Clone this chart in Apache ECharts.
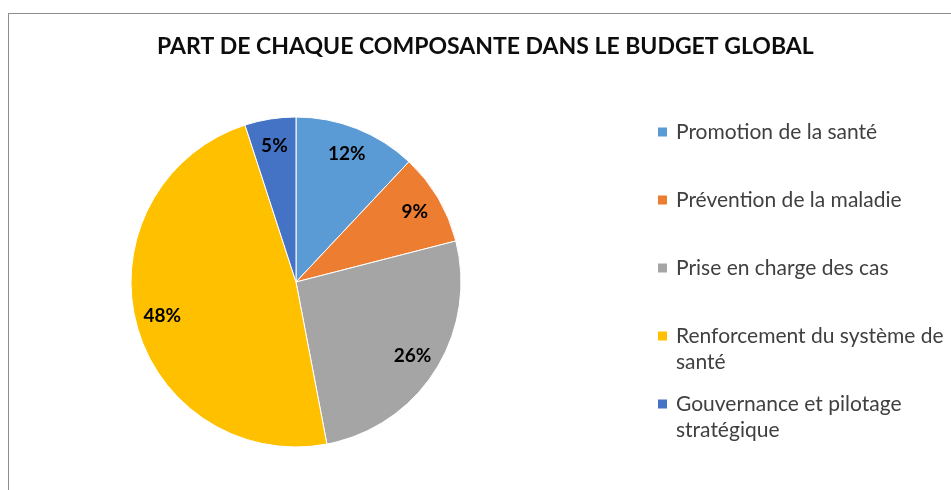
<!DOCTYPE html>
<html>
<head>
<meta charset="utf-8">
<script src="https://cdn.jsdelivr.net/npm/echarts@6/dist/echarts.min.js"></script>
<style>
  html, body { margin: 0; padding: 0; background: #fff; overflow: hidden; }
  #frame { position: absolute; left: 8px; top: 13px; width: 1200px; height: 1200px; border: 1px solid #8c8c8c; }
  #chart { position: absolute; left: 0; top: 0; width: 951px; height: 490px; }
</style>
</head>
<body>
<div id="frame"></div>
<div id="chart"></div>
<script>
const categories = [
  'Promotion de la santé',
  'Prévention de la maladie',
  'Prise en charge des cas',
  'Renforcement du système de santé',
  'Gouvernance et pilotage stratégique'
];
// legend wrapping as in the original
const legendLines = [
  ['Promotion de la santé'],
  ['Prévention de la maladie'],
  ['Prise en charge des cas'],
  ['Renforcement du système de', 'santé'],
  ['Gouvernance et pilotage', 'stratégique']
];
const shares = [12, 9, 26, 48, 5];
const colors = ['#5B9BD5', '#ED7D31', '#A5A5A5', '#FFC000', '#4472C4'];

const FONT = 'Lato, "Open Sans", sans-serif';
const chart = echarts.init(document.getElementById('chart'));

const pieData = categories.map((name, i) => ({
  name,
  value: shares[i],
  itemStyle: { color: colors[i] }
}));

chart.setOption({
  backgroundColor: 'transparent',
  animation: false,
  title: {
    text: 'PART DE CHAQUE COMPOSANTE DANS LE BUDGET GLOBAL',
    left: 157,
    top: 35,
    padding: 0,
    textStyle: { fontFamily: FONT, fontWeight: 'bold', fontSize: 23, color: '#0d0d0d' }
  },
  legend: {
    orient: 'vertical',
    left: 656,
    top: 93,
    padding: 0,
    itemGap: -10,
    itemWidth: 11,
    itemHeight: 11,
    icon: 'rect',
    data: categories,
    formatter: (name) => {
      const lines = legendLines[categories.indexOf(name)];
      // pad so the first line sits level with the key
      return lines.length === 1 ? '\n' + lines[0] + '\n' : '\n' + lines.join('\n');
    },
    textStyle: { fontFamily: FONT, fontSize: 21, color: '#404040', lineHeight: 26, padding: [0, 0, 0, 3] }
  },
  series: [
    {
      type: 'pie',
      center: [296, 282],
      radius: [0, 165],
      startAngle: 90,
      clockwise: true,
      label: { show: false },
      labelLine: { show: false },
      itemStyle: { borderColor: '#fff', borderWidth: 1 },
      emphasis: { disabled: true },
      data: pieData
    },
    {
      // label ring only, puts the percentages further out than mid-radius
      type: 'pie',
      center: [296, 282],
      radius: [105, 165],
      startAngle: 90,
      clockwise: true,
      silent: true,
      itemStyle: { color: 'rgba(0,0,0,0)' },
      labelLine: { show: false },
      emphasis: { disabled: true },
      label: {
        show: true,
        position: 'inside',
        formatter: (p) => p.value + '%',
        fontFamily: FONT,
        fontWeight: 'bold',
        fontSize: 19,
        color: '#000'
      },
      data: categories.map((name, i) => ({ name, value: shares[i], itemStyle: { color: 'rgba(0,0,0,0)' } }))
    }
  ]
});
</script>
</body>
</html>
